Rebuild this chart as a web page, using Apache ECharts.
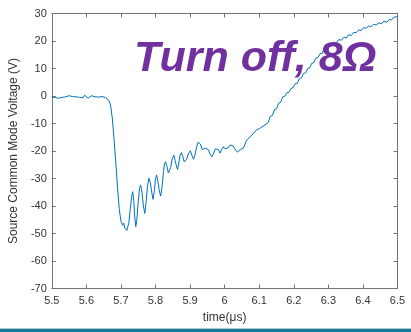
<!DOCTYPE html>
<html>
<head>
<meta charset="UTF-8">
<title></title>
<script src="https://cdn.jsdelivr.net/npm/echarts@6/dist/echarts.min.js"></script>
<style>
* { margin: 0; padding: 0; }
body { background: #fff; }
#app { width: 411px; height: 332px; }
</style>
</head>
<body>
<div id="app"></div>
<script>
// time in microseconds
var timeUs = [
  5.500, 5.505, 5.510, 5.515, 5.520, 5.525, 5.530, 5.535, 5.540, 5.545,
  5.550, 5.555, 5.560, 5.565, 5.570, 5.575, 5.580, 5.585, 5.590, 5.595,
  5.600, 5.605, 5.610, 5.615, 5.620, 5.625, 5.630, 5.635, 5.640, 5.645,
  5.650, 5.655, 5.660, 5.665, 5.670, 5.675, 5.680, 5.685, 5.690, 5.695,
  5.700, 5.705, 5.708, 5.711, 5.714, 5.717, 5.720, 5.723, 5.727, 5.731,
  5.734, 5.737, 5.740, 5.743, 5.746, 5.750, 5.754, 5.757, 5.761, 5.765,
  5.769, 5.773, 5.777, 5.781, 5.785, 5.789, 5.793, 5.797, 5.800, 5.803,
  5.807, 5.811, 5.815, 5.819, 5.823, 5.826, 5.829, 5.833, 5.837, 5.840,
  5.844, 5.848, 5.853, 5.857, 5.861, 5.864, 5.868, 5.871, 5.875, 5.879,
  5.883, 5.886, 5.890, 5.895, 5.901, 5.905, 5.910, 5.914, 5.919, 5.923,
  5.926, 5.930, 5.935, 5.939, 5.944, 5.948, 5.953, 5.958, 5.963, 5.968,
  5.973, 5.977, 5.982, 5.987, 5.991, 5.996, 6.001, 6.006, 6.011, 6.016,
  6.020, 6.025, 6.029, 6.032, 6.037, 6.041, 6.046, 6.050, 6.054, 6.058,
  6.063, 6.068, 6.073, 6.077, 6.082, 6.087, 6.092, 6.097, 6.101, 6.106,
  6.111, 6.116, 6.120, 6.126, 6.132, 6.138, 6.144, 6.150, 6.156, 6.162,
  6.168, 6.174, 6.180, 6.186, 6.192, 6.198, 6.204, 6.210, 6.216, 6.222,
  6.228, 6.234, 6.240, 6.246, 6.252, 6.258, 6.264, 6.270, 6.276, 6.282,
  6.287, 6.294, 6.301, 6.308, 6.316, 6.323, 6.330, 6.338, 6.345, 6.352,
  6.359, 6.366, 6.373, 6.380, 6.388, 6.395, 6.402, 6.409, 6.417, 6.424,
  6.431, 6.438, 6.446, 6.453, 6.461, 6.469, 6.476, 6.483, 6.490, 6.498,
  6.500
];

// source common mode voltage (V)
var voltage = [
  -0.3, 0.4, -0.6, -0.1, -0.8, -0.2, -0.5, -1.0, -0.3, -0.7,
  0.1, -0.6, -0.2, -0.9, -0.3, 0.2, -0.5, -0.1, -0.7, 0.3,
  -0.4, -0.8, -0.2, 0.1, -0.6, -0.3, -0.9, -0.4, -0.7, -0.2,
  -0.8, -0.5, -0.9, -1.6, -3.3, -8.0, -15.5, -24.0, -33.0, -41.0,
  -45.5, -47.0, -46.2, -48.0, -47.3, -48.9, -48.2, -46.0, -41.0, -36.5,
  -34.8, -38.0, -44.0, -47.5, -45.0, -38.5, -33.5, -32.4, -35.0, -40.0,
  -42.7, -38.5, -32.5, -29.9, -31.5, -35.0, -37.6, -34.0, -30.0, -28.7,
  -31.0, -34.5, -36.4, -33.0, -27.5, -24.8, -23.9, -25.5, -28.0, -28.7,
  -26.0, -23.0, -21.5, -23.5, -25.8, -26.7, -24.0, -21.5, -20.6, -22.0,
  -24.0, -24.7, -23.0, -21.0, -19.9, -21.5, -23.0, -21.5, -18.5, -16.8,
  -16.2, -17.5, -19.5, -20.2, -19.0, -18.4, -19.5, -21.2, -22.1, -20.8,
  -19.2, -18.7, -19.5, -20.8, -19.5, -18.4, -19.2, -19.6, -18.8, -17.8,
  -17.2, -18.2, -19.2, -19.6, -20.4, -20.2, -19.4, -19.8, -19.0, -17.8,
  -16.2, -16.5, -14.9, -15.2, -13.8, -13.4, -12.3, -12.9, -11.8, -12.0,
  -11.0, -11.2, -10.2, -9.6, -7.4, -7.1, -5.0, -4.7, -2.6, -2.3,
  -0.3, -0.1, 1.2, 1.3, 2.8, 3.0, 4.5, 4.6, 6.3, 6.6,
  8.2, 8.4, 10.0, 10.2, 11.9, 12.1, 13.8, 14.0, 15.4, 15.5,
  16.9, 16.9, 18.3, 18.2, 19.5, 19.3, 20.5, 20.3, 21.4, 21.1,
  22.3, 22.0, 23.1, 23.0, 24.0, 23.8, 24.9, 24.6, 25.5, 25.2,
  26.1, 25.8, 26.6, 26.3, 27.2, 26.8, 27.8, 27.7, 28.7, 28.8,
  29.2
];

var xTicks = { min: 5.5, max: 6.5, interval: 0.1 };
var yTicks = { min: -70, max: 30, interval: 10 };

var points = timeUs.map(function (t, i) { return [t, voltage[i]]; });

var myChart = echarts.init(document.getElementById('app'));

var axisColor = '#737373';
var labelFont = { color: '#333', fontSize: 11, fontFamily: 'Liberation Sans' };

function sideAxis(pos, show) {
  return {
    position: pos,
    axisLine: { show: true, onZero: false, lineStyle: { color: axisColor, width: 1 } },
    axisTick: { show: true, inside: true, length: 4, lineStyle: { color: axisColor } },
    axisLabel: show ? labelFont : { show: false },
    splitLine: { show: false }
  };
}

var xBottom = Object.assign(sideAxis('bottom', true), {
  type: 'value', min: xTicks.min, max: xTicks.max, interval: xTicks.interval,
  name: 'time(μs)', nameLocation: 'middle', nameGap: 22,
  nameTextStyle: { color: '#333', fontSize: 12, fontFamily: 'Liberation Sans' }
});
xBottom.axisLabel = Object.assign({ margin: 7 }, labelFont);

var xTop = Object.assign(sideAxis('top', false), {
  type: 'value', min: xTicks.min, max: xTicks.max, interval: xTicks.interval
});

var yLeft = Object.assign(sideAxis('left', true), {
  type: 'value', min: yTicks.min, max: yTicks.max, interval: yTicks.interval,
  name: 'Source Common Mode Voltage (V)', nameLocation: 'middle', nameGap: 25,
  nameTextStyle: { color: '#333', fontSize: 12, fontFamily: 'Liberation Sans' }
});
yLeft.axisLabel = Object.assign({ margin: 5 }, labelFont);

var yRight = Object.assign(sideAxis('right', false), {
  type: 'value', min: yTicks.min, max: yTicks.max, interval: yTicks.interval
});

var option = {
  backgroundColor: '#fff',
  animation: false,
  grid: { left: 48.5, right: 13.5, top: 13.5, bottom: 43.5 },
  xAxis: [xBottom, xTop],
  yAxis: [yLeft, yRight],
  graphic: [
    {
      type: 'text', left: 134, top: 38, z: 10,
      style: {
        text: 'Turn off, 8Ω',
        font: 'italic bold 43px "Liberation Sans"',
        fill: '#7030A0'
      }
    },
    { type: 'rect', left: 0, top: 328, z: 10, shape: { width: 411, height: 1 }, style: { fill: '#a9cfd9' } },
    { type: 'rect', left: 0, top: 329, z: 10, shape: { width: 411, height: 3 }, style: { fill: '#177d96' } }
  ],
  series: [{
    type: 'line',
    xAxisIndex: 0,
    yAxisIndex: 0,
    data: points,
    showSymbol: false,
    lineStyle: { color: '#0072BD', width: 1 },
    z: 5
  }]
};

myChart.setOption(option);
</script>
</body>
</html>
